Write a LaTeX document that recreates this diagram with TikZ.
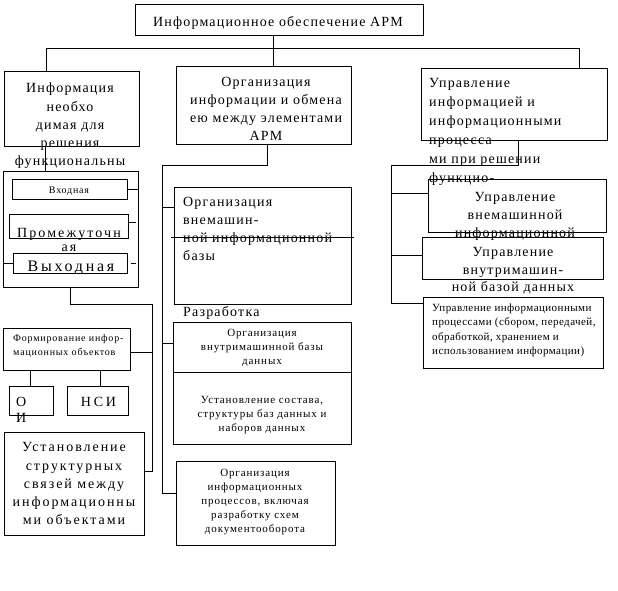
\documentclass[tikz,border=0pt]{standalone}
\usepackage{fontspec}
\setmainfont{Liberation Serif}
\newfontfamily\bigf[LetterSpace=8.5]{Liberation Serif}
\newfontfamily\smallf[LetterSpace=8]{Liberation Serif}
\newcommand\BigT{\bigf\fontsize{14}{18.3}\selectfont}
\newcommand\SmT{\smallf\fontsize{11}{14.2}\selectfont}
\newcommand\TinyT{\smallf\fontsize{10}{13.4}\selectfont}
\tikzset{
  box/.style={draw, line width=0.8pt, inner sep=0pt, anchor=north west},
  txt/.style={inner sep=0pt, font=\BigT},
  stxt/.style={inner sep=0pt, font=\SmT},
  ttxt/.style={inner sep=0pt, font=\TinyT},
  conn/.style={line width=0.8pt}
}
\begin{document}
\begin{tikzpicture}[x=1pt,y=-1pt]
\useasboundingbox (0,0) rectangle (618,590);
% boxes
\node[box, minimum width=288pt, minimum height=31pt] (title) at (135,4) {};
\node[box, minimum width=135pt, minimum height=75pt] (box1) at (4,71) {};
\node[box, minimum width=175pt, minimum height=78pt] (box2) at (176,66) {};
\node[box, minimum width=186pt, minimum height=72pt] (box3) at (421,68) {};
\node[box, minimum width=178pt, minimum height=53pt] (uvnem) at (428,179) {};
\node[box, minimum width=181pt, minimum height=42pt] (uvnut) at (422,237) {};
\node[box, minimum width=180pt, minimum height=71pt] (uproc) at (423,297) {};
\node[box, minimum width=177pt, minimum height=117pt] (vnem) at (174,187) {};
\node[box, minimum width=178pt, minimum height=50pt] (vnutA) at (173,322) {};
\node[box, minimum width=178pt, minimum height=72pt] (vnutB) at (173,372) {};
\node[box, minimum width=159pt, minimum height=84pt] (proc) at (176,461) {};
\node[box, minimum width=135pt, minimum height=116pt] (group) at (3,171) {};
\node[box, minimum width=115pt, minimum height=20pt] (vhod) at (12,179) {};
\node[box, minimum width=119pt, minimum height=24pt] (prom) at (9,214) {};
\node[box, minimum width=114pt, minimum height=20pt] (vyh) at (13,253) {};
\node[box, minimum width=127pt, minimum height=42pt] (form) at (3,328) {};
\node[box, minimum width=44pt, minimum height=29pt] (oi) at (9,386) {};
\node[box, minimum width=61pt, minimum height=29pt] (nsi) at (67,386) {};
\node[box, minimum width=140pt, minimum height=103pt] (ust) at (4,432) {};
% texts (multi-line nodes: base = baseline of last line)
\node[txt, anchor=base] (titlet) at (278,26) {Информационное обеспечение АРМ};
\node[txt, anchor=base, align=center] (box1t) at (70,165.9) {Информация\\необхо\\димая для\\решения\\функциональны};
\node[txt, anchor=base, align=center] (box2t) at (266,140.9) {Организация\\информации и обмена\\ею между элементами\\АРМ};
\node[txt, anchor=base west, align=left, font=\BigT\fontsize{14}{19}\selectfont] (box3t) at (429,182) {Управление\\информацией и\\информационными\\процесса\\ми при решении\\функцио-};
\node[txt, anchor=base, align=center, font=\BigT\fontsize{14}{18}\selectfont] (uvnemt) at (515,237) {Управление\\внемашинной\\информационной};
\node[txt, anchor=base, align=center, font=\BigT\fontsize{14}{17.5}\selectfont] (uvnutt) at (513,291.7) {Управление\\внутримашин-\\ной базой данных};
\node[stxt, anchor=base west, align=left, font=\SmT\addfontfeature{LetterSpace=4}\selectfont] (uproct) at (432,354.3) {Управление информационными\\процессами (сбором, передачей,\\обработкой, хранением и\\использованием информации)};
\node[txt, anchor=base west, align=left, font=\BigT\fontsize{14}{18}\selectfont] (vnemt) at (183,260.7) {Организация\\внемашин-\\ной информационной\\базы};
\node[txt, anchor=base west] (razr) at (183,316.7) {Разработка};
\node[stxt, anchor=base, align=center] (vnutAt) at (262,364.8) {Организация\\внутримашинной базы\\данных};
\node[stxt, anchor=base, align=center] (vnutBt) at (262,431.4) {Установление состава,\\структуры баз данных и\\наборов данных};
\node[stxt, anchor=base, align=center] (proct) at (255,532.8) {Организация\\информационных\\процессов, включая\\разработку схем\\документооборота};
\node[ttxt, anchor=base] (vhodt) at (69,193) {Входная};
\node[txt, anchor=base, align=center, font=\BigT\addfontfeature{LetterSpace=15}\fontsize{14}{14.4}\selectfont] (promt) at (69,251.7) {Промежуточн\\ая};
\node[txt, anchor=base, font=\BigT\addfontfeature{LetterSpace=17}\fontsize{16}{18}\selectfont] (vyht) at (71,271.7) {Выходная};
\node[ttxt, anchor=base west, align=left] (formt) at (13,355.1) {Формирование инфор-\\мационных объектов};
\node[txt, anchor=base west, align=left, font=\BigT\fontsize{14}{16}\selectfont] (oit) at (16,422.7) {О\\И};
\node[txt, anchor=base, font=\BigT\addfontfeature{LetterSpace=20}\selectfont] (nsit) at (98.5,406.7) {НСИ};
\node[txt, anchor=base, align=center, font=\BigT\addfontfeature{LetterSpace=14}\selectfont] (ustt) at (74,524.9) {Установление\\структурных\\связей между\\информационны\\ми объектами};
% connector coordinates
\coordinate (busL) at (46,48);
\coordinate (busR) at (579,48);
\coordinate (c1) at (45,0);
\coordinate (c2a) at (267,165);
\coordinate (c2b) at (162,165);
\coordinate (b2v1) at (162,207);
\coordinate (b2v2) at (162,343);
\coordinate (b2v3) at (162,493);
\coordinate (c3a) at (518,165);
\coordinate (c3b) at (391,165);
\coordinate (b3v1) at (391,193);
\coordinate (b3v2) at (391,255);
\coordinate (b3v3) at (391,303);
\coordinate (c4a) at (70,304);
\coordinate (c4b) at (152,304);
\coordinate (b4v1) at (152,352);
\coordinate (b4v2) at (152,471);
\coordinate (c5a) at (30,0);
\coordinate (c5b) at (100,0);
% connectors
\draw[conn] ([xshift=-6pt]title.south) -- ([xshift=-6pt]title.south |- box2.north);
\draw[conn] (box1.north -| busL) -- (busL) -- (busR) -- (busR |- box3.north);
\draw[conn] (box1.south -| c1) -- (group.north -| c1);
\draw[conn] (box2.south -| c2a) -- (c2a) -- (c2b) -- (b2v3) -- (b2v3 -| proc.west);
\draw[conn] (b2v1) -- (b2v1 -| vnem.west);
\draw[conn] (b2v2) -- (b2v2 -| vnutA.west);
\draw[conn] (box3.south -| c3a) -- (c3a) -- (c3b) -- (b3v3) -- (b3v3 -| uproc.west);
\draw[conn] (b3v1) -- (b3v1 -| uvnem.west);
\draw[conn] (b3v2) -- (b3v2 -| uvnut.west);
\draw[conn] (group.south -| c4a) -- (c4a) -- (c4b) -- (b4v2) -- (b4v2 -| ust.east);
\draw[conn] (b4v1) -- (b4v1 -| form.east);
\draw[conn] (form.south -| c5a) -- (oi.north -| c5a);
\draw[conn] (form.south -| c5b) -- (nsi.north -| c5b);
% stubs
\draw[conn] (vhod.east) -- ++(10,0);
\draw[conn] ([yshift=4pt]prom.east) -- ++(7,0);
\draw[conn] ([xshift=3pt]vyh.east) -- ++(5,0);
\draw[conn] (vyh.west) -- (vyh.west -| group.west);
\draw[conn] ([xshift=-3pt,yshift=8.5pt]vnem.west) -- ([xshift=2pt,yshift=8.5pt]vnem.east);
\end{tikzpicture}
\end{document}
